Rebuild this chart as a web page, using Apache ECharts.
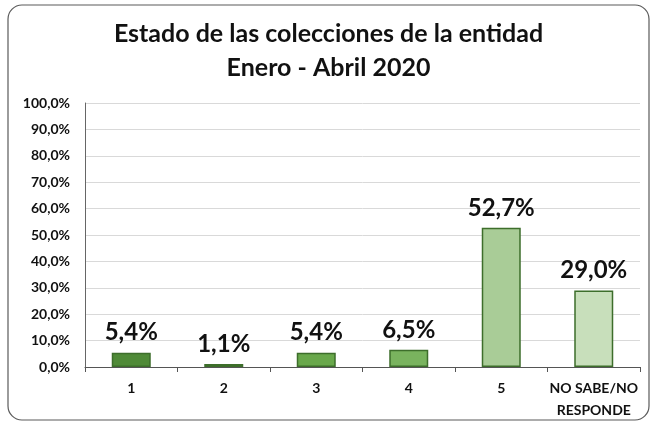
<!DOCTYPE html>
<html><head><meta charset="utf-8">
<script src="https://cdn.jsdelivr.net/npm/echarts@6/dist/echarts.min.js"></script>
<style>html,body{margin:0;padding:0;background:#fff}#c{width:657px;height:424px}</style>
</head><body><div id="c"></div>
<script>
const categories = ['1','2','3','4','5','NO SABE/NO\nRESPONDE'];
const values = [5.4, 1.1, 5.4, 6.5, 52.7, 29.0];
const barColors = ['#4f8a37','#4f8a37','#69a84b','#79b35e','#a9cc97','#c8dfbb'];
const yTicks = [0,10,20,30,40,50,60,70,80,90,100];
const fmt = v => v.toFixed(1).replace('.', ',') + '%';
const font = 'Lato, "Open Sans", sans-serif';
const chart = echarts.init(document.getElementById('c'), null, {renderer:'canvas'});
chart.setOption({
  animation:false,
  textStyle:{fontFamily:font},
  graphic:[{type:'rect',shape:{x:8,y:5,width:641,height:415,r:14},style:{fill:'none',stroke:'#5a5a5a',lineWidth:1.2},z:-1}],
  title:{text:'Estado de las colecciones de la entidad\nEnero - Abril 2020',left:'center',top:12,
    textStyle:{fontFamily:font,fontSize:25,fontWeight:'bold',color:'#111',lineHeight:34}},
  grid:{left:85,right:17,top:103,bottom:57},
  xAxis:{type:'category',data:categories,
    axisLine:{lineStyle:{color:'#555',width:1}},
    axisTick:{show:true,alignWithLabel:false,length:5,lineStyle:{color:'#555'}},
    axisLabel:{color:'#111',fontWeight:'bold',fontSize:14,margin:10,lineHeight:22,interval:0}},
  yAxis:{type:'value',min:0,max:100,interval:10,
    axisLine:{show:true,lineStyle:{color:'#666'}},
    axisTick:{show:false},
    splitLine:{lineStyle:{color:'#d9d9d9'}},
    axisLabel:{color:'#111',fontWeight:'bold',fontSize:14,margin:15,formatter:v=>yTicks.includes(v)?fmt(v):''}},
  series:[{type:'bar',barWidth:39,
    data:values.map((v,i)=>({value:v,itemStyle:{color:barColors[i]}})),
    itemStyle:{borderColor:'#3d6e2b',borderWidth:1.5},
    label:{show:true,position:'top',distance:8,formatter:p=>fmt(p.value),
      fontSize:24,fontWeight:'bold',color:'#111',fontFamily:font}}]
});
</script></body></html>
